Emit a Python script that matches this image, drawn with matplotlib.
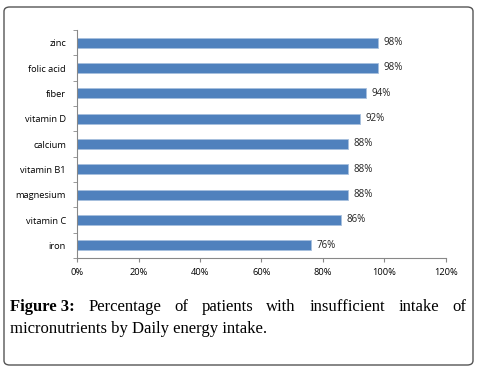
import matplotlib.pyplot as plt
from matplotlib.patches import FancyBboxPatch
import numpy as np

# data (bottom to top)
nutrients = ['iron', 'vitamin C', 'magnesium', 'vitamin B1', 'calcium',
             'vitamin D', 'fiber', 'folic acid', 'zinc']
percent = [76, 86, 88, 88, 88, 92, 94, 98, 98]
xticks = [0, 20, 40, 60, 80, 100, 120]

W, H = 479, 370
fig = plt.figure(figsize=(W / 100, H / 100), dpi=100)

# rounded frame around figure
frame = FancyBboxPatch((4 / W, 5 / H), 469 / W, 358 / H,
                       boxstyle='round,pad=0,rounding_size=0.012',
                       transform=fig.transFigure, fill=False,
                       edgecolor='#555555', linewidth=1.0)
fig.patches.append(frame)

ax = fig.add_axes([77 / W, 1 - 258 / H, (446 - 77) / W, (258 - 30) / H])
y = np.arange(len(nutrients))
ax.barh(y, percent, height=0.4, color='#4F81BD', edgecolor='#A7BFDE', linewidth=0.6)
for yi, v in zip(y, percent):
    ax.text(v + 1.8, yi, f'{v}%', va='center', ha='left', fontsize=7,
            family='Open Sans', color='#222222')

ax.set_xlim(0, 120)
ax.set_ylim(-0.5, len(nutrients) - 0.5)
ax.set_xticks(xticks)
ax.set_xticklabels([f'{t}%' for t in xticks], fontsize=6.7, family='Open Sans')
ax.set_yticks(y)
ax.set_yticklabels(nutrients, fontsize=6.7, family='Open Sans')
ax.set_yticks(np.arange(-0.5, len(nutrients)), minor=True)
ax.tick_params(axis='y', which='major', length=0, pad=8)
ax.tick_params(axis='y', which='minor', length=3, color='#888888')
ax.tick_params(axis='x', length=3, color='#888888', pad=4)
for s in ['top', 'right']:
    ax.spines[s].set_visible(False)
for s in ['left', 'bottom']:
    ax.spines[s].set_color('#888888')
    ax.spines[s].set_linewidth(0.8)

# caption, justified first line
fig.canvas.draw()
r = fig.canvas.get_renderer()
x0, x1 = 10 / W, 466 / W
words = ['Percentage', 'of', 'patients', 'with', 'insufficient', 'intake', 'of']
cap_kw = dict(fontsize=12, family='Liberation Serif', va='baseline', ha='left')
t1 = fig.text(x0, 1 - 311 / H, 'Figure 3:', fontweight='bold', **cap_kw)
tw = [fig.text(0, 1 - 311 / H, w, **cap_kw) for w in words]
widths = [t.get_window_extent(r).width / W for t in [t1] + tw]
gap = (x1 - x0 - sum(widths)) / len(words)
pos = x0 + widths[0] + gap
for t, wdt in zip(tw, widths[1:]):
    t.set_x(pos)
    pos += wdt + gap
fig.text(x0, 1 - 333 / H, 'micronutrients by Daily energy intake.', **cap_kw)

fig.savefig('out.png', dpi=100)
